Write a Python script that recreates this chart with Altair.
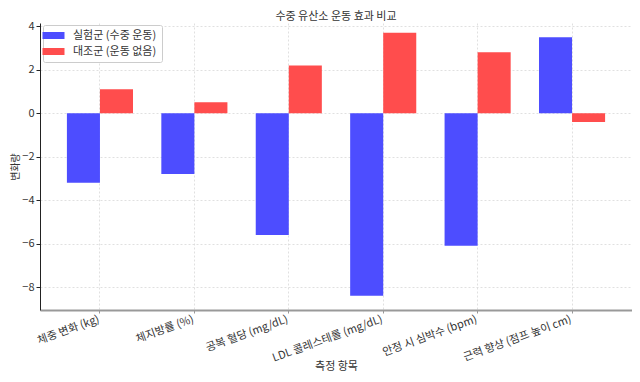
import altair as alt
import pandas as pd

categories = [
    "체중 변화 (kg)",
    "체지방률 (%)",
    "공복 혈당 (mg/dL)",
    "LDL 콜레스테롤 (mg/dL)",
    "안정 시 심박수 (bpm)",
    "근력 향상 (점프 높이 cm)",
]
groups = ["실험군 (수중 운동)", "대조군 (운동 없음)"]
exp_vals = [-3.2, -2.8, -5.6, -8.4, -6.1, 3.5]
ctrl_vals = [1.1, 0.5, 2.2, 3.7, 2.8, -0.4]
colors = ["#4d4dff", "#ff4d4d"]
y_ticks = [-8, -6, -4, -2, 0, 2, 4]

rows = []
for c, e, r in zip(categories, exp_vals, ctrl_vals):
    rows.append({"항목": c, "그룹": groups[0], "값": e})
    rows.append({"항목": c, "그룹": groups[1], "값": r})
df = pd.DataFrame(rows)

font = "Noto Sans CJK KR"

chart = alt.Chart(df).mark_bar().encode(
    x=alt.X(
        "항목:N",
        sort=categories,
        scale=alt.Scale(paddingInner=0.3, paddingOuter=0.285),
        axis=alt.Axis(
            title="측정 항목",
            labelAngle=340,
            labelAlign="right",
            labelBaseline="top",
            labelPadding=0,
            labelOffset=-3,
            labelFontSize=11,
            bandPosition=0.5,
            grid=True,
            gridDash=[2, 2],
            gridColor="#d8d8d8",
            gridWidth=0.8,
            domainColor="#999999",
            domainWidth=2,
            tickColor="#999999",
            tickSize=3,
            titlePadding=-3,
            titleFontSize=11,
        ),
    ),
    xOffset=alt.XOffset(
        "그룹:N", sort=groups, scale=alt.Scale(domain=groups, paddingInner=0, paddingOuter=0)
    ),
    y=alt.Y(
        "값:Q",
        scale=alt.Scale(domain=[-9.05, 4.15], nice=False, zero=False),
        axis=alt.Axis(
            title="변화량",
            values=y_ticks,
            grid=True,
            gridDash=[2, 2],
            gridColor="#d8d8d8",
            gridWidth=0.8,
            domainColor="#222222",
            domainWidth=1,
            tickColor="#222222",
            tickSize=4,
            labelPadding=2,
            labelFontSize=11,
            titlePadding=1,
            titleFontSize=10,
        ),
    ),
    color=alt.Color(
        "그룹:N",
        sort=groups,
        scale=alt.Scale(domain=groups, range=colors),
        legend=alt.Legend(
            title=None,
            orient="none",
            legendX=3,
            legendY=2,
            symbolType="M-2.2,-0.7L2.2,-0.7L2.2,0.7L-2.2,0.7Z",
            symbolSize=100,
            symbolStrokeWidth=0,
            fillColor="white",
            strokeColor="#cccccc",
            cornerRadius=2,
            padding=5,
            rowPadding=4,
            labelFontSize=11,
            labelFont=font,
            labelColor="#333333",
            labelOffset=14,
        ),
    ),
).properties(
    width=592,
    height=287,
    title=alt.Title("수중 유산소 운동 효과 비교", fontSize=11, font=font, fontWeight="normal", color="#333333", offset=-2),
    padding={"left": 32, "top": 15, "right": 0, "bottom": 64},
    autosize=alt.AutoSizeParams(type="none"),
).configure_view(
    stroke=None
).configure_axis(
    labelFont=font,
    titleFont=font,
    labelColor="#333333",
    titleColor="#333333",
    titleFontWeight="normal",
)

chart.save("out.html", embed_options={"renderer": "svg", "actions": False})
